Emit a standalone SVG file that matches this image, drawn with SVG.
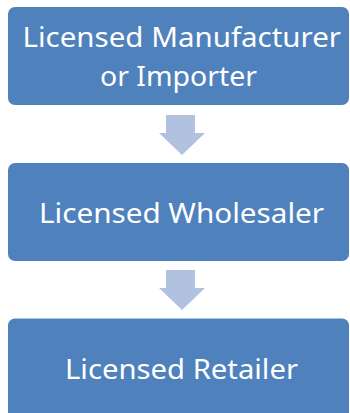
<svg xmlns="http://www.w3.org/2000/svg" width="350" height="413" viewBox="0 0 350 413">
<style>
.box{fill:#4F81BD;}
.arrow{fill:#B0C2DF;}
.lbl{font-family:"Noto Sans","Open Sans","Liberation Sans",sans-serif;font-size:28px;fill:#FFFFFF;}
</style>
<rect width="350" height="413" fill="#FFFFFF"/>
<g id="connectors">
<polygon class="arrow" points="166,115 195,115 195,133 205,133 182,155 159,133 166,133"/>
<polygon class="arrow" points="166,270 195,270 195,288 205,288 182,310 159,288 166,288"/>
</g>
<g id="node1">
<rect class="box" x="8" y="7" width="341" height="98" rx="7"/>
<text class="lbl" x="22.5" y="47" textLength="318.5" lengthAdjust="spacingAndGlyphs">Licensed Manufacturer</text>
<text class="lbl" x="100" y="85.5" textLength="157" lengthAdjust="spacingAndGlyphs">or Importer</text>
</g>
<g id="node2">
<rect class="box" x="8" y="163" width="341" height="98" rx="7"/>
<text class="lbl" x="39" y="223" textLength="285" lengthAdjust="spacingAndGlyphs">Licensed Wholesaler</text>
</g>
<g id="node3">
<rect class="box" x="8" y="318.5" width="341" height="110" rx="7"/>
<text class="lbl" x="65" y="378.5" textLength="233" lengthAdjust="spacingAndGlyphs">Licensed Retailer</text>
</g>
</svg>
